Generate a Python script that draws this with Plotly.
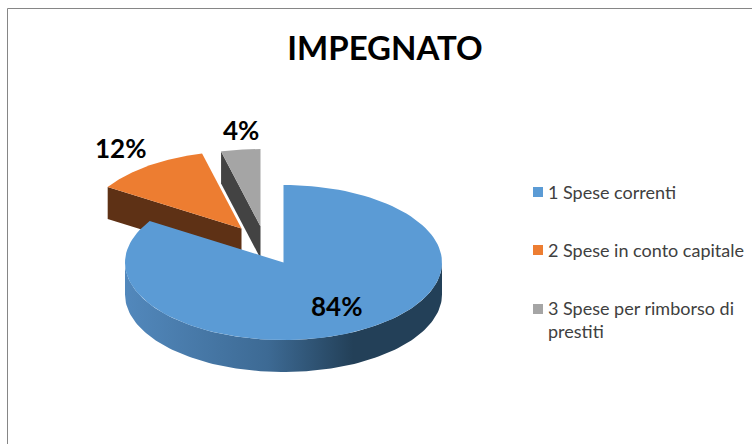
import numpy as np
import plotly.graph_objects as go

categories = ["1 Spese correnti", "2 Spese in conto capitale", "3 Spese per rimborso di<br>prestiti"]
values = [84, 12, 4]
top_colors = ["#5B9BD5", "#ED7D31", "#A5A5A5"]
side_colors = ["#234058", "#5E3115", "#434343"]

# Projection of the tilted pie on to the pixel grid of the picture
RX, RY, DEPTH = 158.5, 77.5, 32
CENTERS = [(283.5, 262.5), (241.5, 228.5), (260.5, 226.5)]
LABEL_POS = [(336.5, 306), (120.5, 148), (240.5, 130)]
LEGEND_POS = [(538, 192), (538, 250), (538, 309)]
FONT = "Lato"


def rim(center, a0, a1, n=120):
    t = np.radians(np.linspace(a0, a1, n))
    return center[0] + RX * np.sin(t), center[1] - RY * np.cos(t)


shares = np.array(values) / sum(values) * 360
starts = np.concatenate([[0], np.cumsum(shares)[:-1]])
ends = starts + shares


def wedge(i):
    x, y = rim(CENTERS[i], starts[i], ends[i])
    cx, cy = CENTERS[i]
    return np.r_[cx, x, cx], np.r_[cy, y, cy]


def cut_face(i):
    """Radial cut at the start of a slice, seen from the front."""
    cx, cy = CENTERS[i]
    x, y = rim(CENTERS[i], starts[i], starts[i], 1)
    return [cx, x[0], x[0], cx, cx], [cy, y[0], y[0] + DEPTH, cy + DEPTH, cy]


fig = go.Figure()


def poly(x, y, color, **kw):
    fig.add_trace(go.Scatter(x=x, y=y, mode="lines", fill="toself", fillcolor=color,
                             line=dict(width=0, color=color), hoverinfo="skip",
                             showlegend=False, **kw))


# back slices first, then the large slice on top of them
for i in (1, 2):
    poly(*cut_face(i), side_colors[i])
    poly(*wedge(i), top_colors[i])

wx, wy = rim(CENTERS[0], 90, 270)
poly(np.r_[wx, wx[::-1], wx[0]], np.r_[wy, wy[::-1] + DEPTH, wy[0]], side_colors[0],
     fillgradient=dict(type="horizontal",
                       colorscale=[[0, "#5288BC"], [0.45, "#3D6A94"],
                                   [0.72, side_colors[0]], [1, side_colors[0]]]))
poly(*wedge(0), top_colors[0])

annotations = [
    dict(x=p[0], y=p[1], text=f"<b>{v}%</b>", showarrow=False, xref="x", yref="y",
         font=dict(family=FONT, size=26, color="#000000"))
    for p, v in zip(LABEL_POS, values)
]
shapes = [
    dict(type="line", xref="x", yref="y", x0=7.5, x1=7.5, y0=8.5, y1=444,
         line=dict(color="#868686", width=1)),
    dict(type="line", xref="x", yref="y", x0=7.5, x1=752, y0=8.5, y1=8.5,
         line=dict(color="#868686", width=1)),
]
for p, c, name in zip(LEGEND_POS, top_colors, categories):
    shapes.append(dict(type="rect", xref="x", yref="y", x0=p[0] - 5, x1=p[0] + 5,
                       y0=p[1] - 5, y1=p[1] + 5, fillcolor=c, line=dict(width=0)))
    annotations.append(dict(x=p[0] + 8, y=p[1], yanchor="top" if "<br>" in name else "middle",
                            yshift=14 if "<br>" in name else 0,
                            xanchor="left", align="left", text=name, showarrow=False,
                            xref="x", yref="y",
                            font=dict(family=FONT, size=18, color="#404040")))

fig.update_layout(
    width=752, height=444, margin=dict(l=0, r=0, t=0, b=0),
    paper_bgcolor="white", plot_bgcolor="white", showlegend=False,
    title=dict(text="<b>IMPEGNATO</b>", x=385 / 752, xanchor="center", y=1 - 48 / 444,
               yanchor="middle", font=dict(family=FONT, size=33, color="#000000")),
    xaxis=dict(range=[0, 752], visible=False, fixedrange=True),
    yaxis=dict(range=[444, 0], visible=False, fixedrange=True),
    annotations=annotations, shapes=shapes,
)
fig.write_html("out.html", config=dict(displayModeBar=False),
               post_script="document.body.style.margin='0';document.body.style.overflow='hidden';")
